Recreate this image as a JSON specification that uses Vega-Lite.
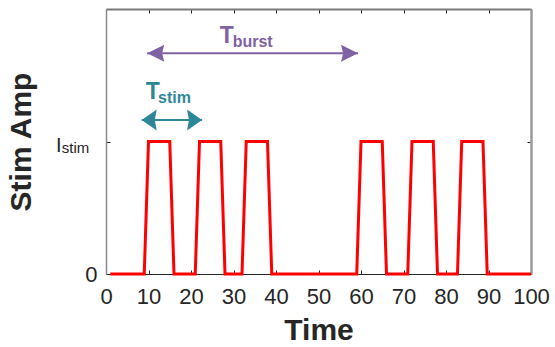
{
  "$schema": "https://vega.github.io/schema/vega-lite/v6.json",
  "width": 425,
  "height": 265,
  "autosize": {"type": "none"},
  "padding": {"left": 106, "top": 9, "right": 24, "bottom": 73},
  "background": "white",
  "config": {
    "font": "Liberation Sans",
    "view": {"stroke": null},
    "axis": {"grid": false, "labelFont": "Liberation Sans", "titleFont": "Liberation Sans", "labelColor": "#262626", "titleColor": "#262626", "tickColor": "#262626"}
  },
  "datasets": {
    "pulse": [
      {"t": 1, "amp": 0}, {"t": 9, "amp": 0}, {"t": 10, "amp": 1}, {"t": 15, "amp": 1}, {"t": 16, "amp": 0},
      {"t": 21, "amp": 0}, {"t": 22, "amp": 1}, {"t": 27, "amp": 1}, {"t": 28, "amp": 0},
      {"t": 32, "amp": 0}, {"t": 33, "amp": 1}, {"t": 38, "amp": 1}, {"t": 39, "amp": 0},
      {"t": 59, "amp": 0}, {"t": 60, "amp": 1}, {"t": 65, "amp": 1}, {"t": 66, "amp": 0},
      {"t": 71, "amp": 0}, {"t": 72, "amp": 1}, {"t": 77, "amp": 1}, {"t": 78, "amp": 0},
      {"t": 82.7, "amp": 0}, {"t": 83.7, "amp": 1}, {"t": 88.7, "amp": 1}, {"t": 89.7, "amp": 0},
      {"t": 100, "amp": 0}
    ],
    "arrows": [
      {"grp": "burst", "x1": 9.7, "x2": 59.3, "y": 1.666},
      {"grp": "stim", "x1": 8.4, "x2": 22.6, "y": 1.162}
    ],
    "heads": [
      {"grp": "burst", "head": "burstL", "x": 9.7, "y": 1.666},
      {"grp": "burst", "head": "burstR", "x": 59.3, "y": 1.666},
      {"grp": "stim", "head": "stimL", "x": 8.4, "y": 1.162},
      {"grp": "stim", "head": "stimR", "x": 22.6, "y": 1.162}
    ],
    "mains": [
      {"grp": "burst", "x": 28.4, "y": 1.743, "txt": "T"},
      {"grp": "stim", "x": 11.0, "y": 1.321, "txt": "T"},
      {"grp": "axis", "x": -11.1, "y": 0.923, "txt": "I"}
    ],
    "subs": [
      {"grp": "burst", "x": 29.8, "y": 1.711, "txt": "burst"},
      {"grp": "stim", "x": 12.24, "y": 1.293, "txt": "stim"}
    ],
    "axsub": [
      {"x": -10.4, "y": 0.915, "txt": "stim"}
    ]
  },
  "resolve": {"axis": {"x": "independent", "y": "independent"}},
  "layer": [
    {
      "data": {"name": "pulse"},
      "mark": {"type": "line", "color": "#ff0000", "strokeWidth": 3, "clip": false},
      "encoding": {
        "x": {"field": "t", "type": "quantitative", "scale": {"domain": [0, 100], "nice": false},
          "axis": {"orient": "bottom", "values": [0,10,20,30,40,50,60,70,80,90,100], "title": "Time", "titleFontSize": 30, "titleFontWeight": "bold", "titlePadding": 8, "labelFontSize": 22, "labelPadding": 16, "tickSize": -4, "domainColor": "#262626", "labelFlush": false}},
        "y": {"field": "amp", "type": "quantitative", "scale": {"domain": [0, 2], "nice": false},
          "axis": {"orient": "left", "values": [0, 1], "labelExpr": "datum.value == 0 ? '0' : ''", "title": "Stim Amp", "titleFontSize": 30, "titleFontWeight": "bold", "titlePadding": 48, "labelFontSize": 22, "labelPadding": 13, "tickSize": -4, "domainColor": "#8a8a8a", "domainWidth": 1.5}}
      }
    },
    {
      "data": {"name": "pulse"},
      "mark": {"type": "line", "opacity": 0},
      "encoding": {
        "x": {"field": "t", "type": "quantitative", "axis": {"orient": "top", "values": [0,10,20,30,40,50,60,70,80,90,100], "labels": false, "title": null, "tickSize": -4, "domainColor": "#7a7a7a", "domainWidth": 2}},
        "y": {"field": "amp", "type": "quantitative", "axis": {"orient": "right", "values": [0, 1], "labels": false, "title": null, "tickSize": -4, "domainColor": "#9a9a9a", "domainWidth": 2.5}}
      }
    },
    {
      "data": {"name": "arrows"},
      "mark": {"type": "rule", "strokeWidth": 2},
      "encoding": {
        "x": {"field": "x1", "type": "quantitative", "axis": null},
        "x2": {"field": "x2"},
        "y": {"field": "y", "type": "quantitative", "axis": null},
        "color": {"field": "grp", "type": "nominal", "scale": {"domain": ["burst", "stim", "axis"], "range": ["#7e62a3", "#2e8798", "#262626"]}, "legend": null}
      }
    },
    {
      "data": {"name": "heads"},
      "mark": {"type": "point", "filled": true, "opacity": 1, "strokeWidth": 0},
      "encoding": {
        "x": {"field": "x", "type": "quantitative", "axis": null},
        "y": {"field": "y", "type": "quantitative", "axis": null},
        "color": {"field": "grp", "type": "nominal", "legend": null},
        "shape": {"field": "head", "type": "nominal", "legend": null, "scale": {"domain": ["burstL", "burstR", "stimL", "stimR"], "range": ["M0,0L2,-1L1.75,0L2,1Z", "M0,0L-2,-1L-1.75,0L-2,1Z", "M0,0L2,-1.4L1.75,0L2,1.4Z", "M0,0L-2,-1.4L-1.75,0L-2,1.4Z"]}},
        "size": {"field": "grp", "type": "nominal", "legend": null, "scale": {"domain": ["burst", "stim"], "range": [289, 225]}}
      }
    },
    {
      "data": {"name": "mains"},
      "transform": [{"filter": "datum.grp != 'axis'"}],
      "mark": {"type": "text", "fontSize": 23, "fontWeight": "bold", "align": "center", "baseline": "alphabetic"},
      "encoding": {
        "x": {"field": "x", "type": "quantitative", "axis": null},
        "y": {"field": "y", "type": "quantitative", "axis": null},
        "text": {"field": "txt"},
        "color": {"field": "grp", "type": "nominal", "legend": null}
      }
    },
    {
      "data": {"name": "subs"},
      "mark": {"type": "text", "fontSize": 16, "fontWeight": "bold", "align": "left", "baseline": "alphabetic"},
      "encoding": {
        "x": {"field": "x", "type": "quantitative", "axis": null},
        "y": {"field": "y", "type": "quantitative", "axis": null},
        "text": {"field": "txt"},
        "color": {"field": "grp", "type": "nominal", "legend": null}
      }
    },
    {
      "data": {"name": "mains"},
      "transform": [{"filter": "datum.grp == 'axis'"}],
      "mark": {"type": "text", "fontSize": 20, "align": "center", "baseline": "alphabetic", "color": "#262626"},
      "encoding": {
        "x": {"field": "x", "type": "quantitative", "axis": null},
        "y": {"field": "y", "type": "quantitative", "axis": null},
        "text": {"field": "txt"}
      }
    },
    {
      "data": {"name": "axsub"},
      "mark": {"type": "text", "fontSize": 15, "align": "left", "baseline": "alphabetic", "color": "#262626"},
      "encoding": {
        "x": {"field": "x", "type": "quantitative", "axis": null},
        "y": {"field": "y", "type": "quantitative", "axis": null},
        "text": {"field": "txt"}
      }
    }
  ]
}
